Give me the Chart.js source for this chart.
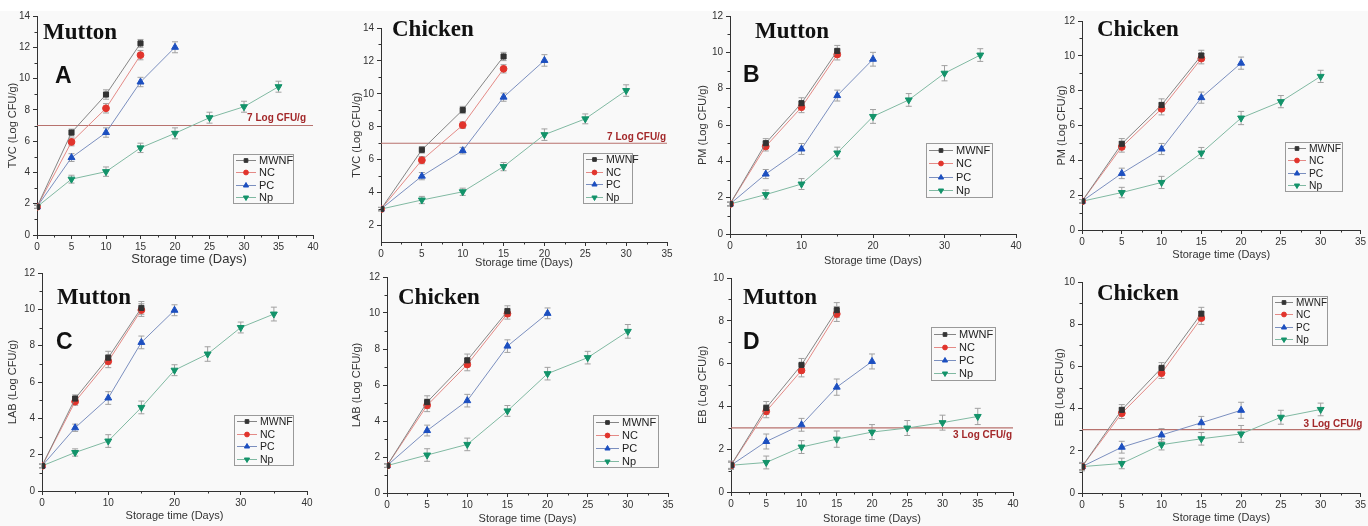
<!DOCTYPE html>
<html>
<head>
<meta charset="utf-8">
<script src="https://cdn.jsdelivr.net/npm/chart.js@4.4.1/dist/chart.umd.min.js"></script>
<style>
  body { margin: 0; width: 1368px; height: 526px; position: relative; overflow: hidden; background: #f9f9f9; }
  .topband { position: absolute; left: 0; top: 0; width: 1368px; height: 11px; background: #fff; }
  canvas { position: absolute; }
  .ttl { position: absolute; font-family: "Liberation Serif", "Times New Roman", serif; font-weight: bold; font-size: 23px; line-height: 1; color: #111; white-space: nowrap; }
  .let { position: absolute; font-family: "Liberation Sans", Arial, sans-serif; font-weight: bold; font-size: 23px; line-height: 1; color: #111; }
</style>
</head>
<body>
<div class="topband"></div>
<script>
// storage days and series
const days = [0, 5, 10, 15, 20, 25, 30, 35];
const seriesNames = ['MWNF', 'NC', 'PC', 'Np'];

// A - TVC mutton (MWNF, NC, PC, Np)
const tvcMutton = [
  [1.8, 6.55, 8.98, 12.25],
  [1.8, 5.95, 8.1, 11.5],
  [1.8, 4.95, 6.55, 9.78, 12.0],
  [1.8, 3.57, 4.05, 5.57, 6.5, 7.5, 8.2, 9.48]
];
const tvcMuttonErr = [
  [0.1, 0.22, 0.3, 0.25],
  [0.1, 0.25, 0.3, 0.3],
  [0.1, 0.25, 0.3, 0.3, 0.35],
  [0.1, 0.25, 0.3, 0.3, 0.35, 0.35, 0.35, 0.35]
];

// TVC chicken
const tvcChicken = [
  [3.0, 6.6, 9.02, 12.27],
  [3.0, 5.97, 8.1, 11.52],
  [3.0, 5.0, 6.55, 9.8, 12.03],
  [3.0, 3.55, 4.05, 5.58, 7.52, 8.48, 10.2]
];
const tvcChickenErr = [
  [0.1, 0.2, 0.22, 0.25],
  [0.1, 0.22, 0.2, 0.25],
  [0.1, 0.22, 0.2, 0.25, 0.35],
  [0.1, 0.22, 0.22, 0.25, 0.35, 0.3, 0.35]
];

// B - PM mutton
const pmMutton = [
  [1.65, 5.0, 7.2, 10.08],
  [1.65, 4.82, 6.98, 9.88],
  [1.65, 3.3, 4.68, 7.62, 9.62],
  [1.65, 2.17, 2.75, 4.46, 6.47, 7.38, 8.85, 9.85]
];
const pmMuttonErr = [
  [0.1, 0.25, 0.3, 0.3],
  [0.1, 0.25, 0.3, 0.3],
  [0.1, 0.25, 0.3, 0.3, 0.38],
  [0.1, 0.25, 0.3, 0.32, 0.38, 0.35, 0.42, 0.35]
];

// PM chicken
const pmChicken = [
  [1.65, 4.95, 7.18, 10.02],
  [1.65, 4.77, 6.96, 9.84],
  [1.65, 3.25, 4.65, 7.6, 9.58],
  [1.65, 2.15, 2.73, 4.42, 6.43, 7.37, 8.82]
];
const pmChickenErr = [
  [0.1, 0.3, 0.35, 0.3],
  [0.1, 0.3, 0.35, 0.3],
  [0.1, 0.3, 0.32, 0.32, 0.35],
  [0.1, 0.3, 0.35, 0.32, 0.38, 0.35, 0.35]
];

// C - LAB mutton
const labMutton = [
  [1.38, 5.09, 7.34, 10.08],
  [1.38, 4.92, 7.14, 9.96],
  [1.38, 3.48, 5.12, 8.18, 9.95],
  [1.38, 2.12, 2.75, 4.6, 6.65, 7.54, 9.0, 9.74]
];
const labMuttonErr = [
  [0.1, 0.2, 0.35, 0.35],
  [0.1, 0.2, 0.35, 0.35],
  [0.1, 0.2, 0.35, 0.35, 0.3],
  [0.1, 0.2, 0.35, 0.35, 0.3, 0.4, 0.3, 0.38]
];

// LAB chicken
const labChicken = [
  [1.52, 5.05, 7.37, 10.1],
  [1.52, 4.87, 7.14, 9.96],
  [1.52, 3.47, 5.13, 8.16, 9.98],
  [1.52, 2.11, 2.7, 4.56, 6.63, 7.52, 8.98]
];
const labChickenErr = [
  [0.1, 0.35, 0.35, 0.3],
  [0.1, 0.35, 0.35, 0.3],
  [0.1, 0.3, 0.35, 0.35, 0.3],
  [0.1, 0.35, 0.35, 0.3, 0.35, 0.35, 0.38]
];

// D - EB mutton
const ebMutton = [
  [1.25, 3.93, 5.94, 8.5],
  [1.25, 3.77, 5.68, 8.32],
  [1.25, 2.36, 3.14, 4.9, 6.1],
  [1.25, 1.38, 2.1, 2.47, 2.8, 2.99, 3.24, 3.53]
];
const ebMuttonErr = [
  [0.15, 0.3, 0.3, 0.35],
  [0.15, 0.3, 0.3, 0.35],
  [0.15, 0.35, 0.3, 0.38, 0.35],
  [0.2, 0.3, 0.3, 0.38, 0.35, 0.35, 0.35, 0.38]
];

// EB chicken
const ebChicken = [
  [1.25, 3.94, 5.93, 8.5],
  [1.25, 3.78, 5.68, 8.29],
  [1.25, 2.17, 2.75, 3.33, 3.92],
  [1.25, 1.4, 2.29, 2.57, 2.8, 3.59, 3.96]
];
const ebChickenErr = [
  [0.15, 0.25, 0.25, 0.3],
  [0.15, 0.25, 0.25, 0.3],
  [0.15, 0.28, 0.3, 0.3, 0.38],
  [0.2, 0.25, 0.25, 0.3, 0.4, 0.33, 0.3]
];

// styles
const markerColors = ['#333333', '#e1342c', '#1c4fc0', '#13936a'];
const lineColors = ['#858585', '#e48a86', '#7b8fbf', '#80b9a2'];
const pointStyles = ['rect', 'circle', 'triangle', 'triangle'];
const pointRots = [0, 0, 0, 180];
const pointSizes = [3.6, 3.4, 4, 4];

Chart.defaults.font.family = '"Liberation Sans", Arial, sans-serif';
Chart.defaults.color = '#333';

const extras = {
  id: 'extras',
  beforeDatasetsDraw(chart) {
    const ctx = chart.ctx, ys = chart.scales.y;
    chart.data.datasets.forEach((ds, di) => {
      if (!ds.errors) return;
      const meta = chart.getDatasetMeta(di);
      ctx.save();
      ctx.strokeStyle = '#a0a0a0';
      ctx.lineWidth = 1;
      ctx.beginPath();
      meta.data.forEach((pt, i) => {
        const v = ds.data[i].y, e = ds.errors[i];
        const t = ys.getPixelForValue(v + e), b = ys.getPixelForValue(v - e);
        ctx.moveTo(pt.x, t); ctx.lineTo(pt.x, b);
        ctx.moveTo(pt.x - 3, t); ctx.lineTo(pt.x + 3, t);
        ctx.moveTo(pt.x - 3, b); ctx.lineTo(pt.x + 3, b);
      });
      ctx.stroke();
      ctx.restore();
    });
  },
  afterDraw(chart, args, o) {
    const ctx = chart.ctx, xs = chart.scales.x, ys = chart.scales.y;
    ctx.save();
    // minor ticks
    ctx.strokeStyle = '#333';
    ctx.lineWidth = 1;
    ctx.beginPath();
    for (let v = o.xMinor; v < xs.max; v += o.xMinor) {
      if (Math.abs(v / o.xMajor - Math.round(v / o.xMajor)) < 1e-6) continue;
      const px = Math.round(xs.getPixelForValue(v)) + 0.5;
      ctx.moveTo(px, ys.bottom); ctx.lineTo(px, ys.bottom + 2.5);
    }
    for (let v = Math.ceil(ys.min); v < ys.max; v += o.yMinor) {
      if (v <= ys.min) continue;
      if (Math.abs(v / o.yMajor - Math.round(v / o.yMajor)) < 1e-6) continue;
      const py = Math.round(ys.getPixelForValue(v)) + 0.5;
      ctx.moveTo(xs.left, py); ctx.lineTo(xs.left - 2.5, py);
    }
    ctx.stroke();

    // x axis title
    ctx.font = o.xTitleSize + 'px "Liberation Sans", Arial, sans-serif';
    ctx.fillStyle = '#333';
    ctx.textAlign = 'center';
    ctx.textBaseline = 'middle';
    ctx.fillText('Storage time (Days)', (xs.left + xs.right) / 2 + o.xTitleShift, o.xTitleY);

    // threshold label
    if (o.thrLabel) {
      ctx.font = 'bold 10px "Liberation Sans", Arial, sans-serif';
      ctx.fillStyle = '#a3282a';
      ctx.textAlign = 'right';
      ctx.fillText(o.thrLabel, xs.getPixelForValue(xs.max) + o.thrDx, ys.getPixelForValue(o.thr) + o.thrDy);
    }

    // legend box
    const [bx, by, bw, bh] = o.legend;
    ctx.strokeStyle = '#9a9a9a';
    ctx.lineWidth = 1;
    ctx.strokeRect(Math.round(bx) + 0.5, Math.round(by) + 0.5, Math.round(bw), Math.round(bh));
    const rowH = bh / 4;
    ctx.font = o.legendFont + 'px "Liberation Sans", Arial, sans-serif';
    ctx.textAlign = 'left';
    ctx.textBaseline = 'middle';
    const dp = Chart.helpers && Chart.helpers.drawPoint;
    chart.data.datasets.forEach((ds, i) => {
      if (!ds.errors) return;
      const cy = Math.round(by + rowH * (i + 0.5)) + 0.5;
      ctx.strokeStyle = ds.borderColor;
      ctx.beginPath();
      ctx.moveTo(bx + 3, cy); ctx.lineTo(bx + o.legendTextDx - 3, cy);
      ctx.stroke();
      ctx.fillStyle = ds.pointBackgroundColor;
      ctx.strokeStyle = ds.pointBorderColor;
      const mx = bx + (o.legendTextDx) / 2;
      if (dp) {
        dp(ctx, { pointStyle: ds.pointStyle, rotation: ds.pointRotation, radius: ds.pointRadius - 1, borderWidth: 1 }, mx, cy);
      } else {
        ctx.beginPath(); ctx.arc(mx, cy, 2.5, 0, Math.PI * 2); ctx.fill();
      }
      ctx.fillStyle = '#222';
      ctx.fillText(ds.label, bx + o.legendTextDx, cy + 0.5);
    });
    ctx.restore();
  }
};

// layout of each panel (page pixels)
const panels = [
  { data: tvcMutton, err: tvcMuttonErr, yTitle: 'TVC (Log CFU/g)', area: [37, 16, 313, 235], yTitleX: 13, xTitleY: 259, xTitleSize: 13, xTitleShift: 14,
    xMax: 40, xStep: 5, yMin: 0, yMax: 14, yStep: 2, thr: 7, thrLabel: '7 Log CFU/g', thrDx: -7, thrDy: -7, legend: [233, 154, 60, 49], legendFont: 11, legendTextDx: 26,
    title: 'Mutton', titlePos: [43, 31.5], letter: 'A', letterPos: [55, 75] },
  { data: tvcChicken, err: tvcChickenErr, yTitle: 'TVC (Log CFU/g)', area: [381, 28, 667, 242], yTitleX: 357, xTitleY: 263, xTitleSize: 11, xTitleShift: 0,
    xMax: 35, xStep: 5, yMin: 1, yMax: 14, yStep: 2, thr: 7, thrLabel: '7 Log CFU/g', thrDx: -1, thrDy: -6, legend: [583, 153, 49, 50], legendFont: 10.5, legendTextDx: 23,
    title: 'Chicken', titlePos: [392, 29] },
  { data: pmMutton, err: pmMuttonErr, yTitle: 'PM (Log CFU/g)', area: [730, 16, 1016, 234], yTitleX: 703, xTitleY: 261, xTitleSize: 11, xTitleShift: 0,
    xMax: 40, xStep: 10, yMin: 0, yMax: 12, yStep: 2, legend: [926, 143, 66, 54], legendFont: 11, legendTextDx: 30,
    title: 'Mutton', titlePos: [755, 30.5], letter: 'B', letterPos: [743, 74.5] },
  { data: pmChicken, err: pmChickenErr, yTitle: 'PM (Log CFU/g)', area: [1082, 21, 1363, 230], yTitleX: 1062, xTitleY: 255, xTitleSize: 11, xTitleShift: 0,
    xMax: 35, xStep: 5, yMin: 0, yMax: 12, yStep: 2, legend: [1285, 142, 57, 49], legendFont: 10.3, legendTextDx: 24,
    title: 'Chicken', titlePos: [1097, 28.5] },
  { data: labMutton, err: labMuttonErr, yTitle: 'LAB (Log CFU/g)', area: [42, 273, 307, 491], yTitleX: 13, xTitleY: 516, xTitleSize: 11, xTitleShift: 0,
    xMax: 40, xStep: 10, yMin: 0, yMax: 12, yStep: 2, legend: [234, 415, 59, 50], legendFont: 10.5, legendTextDx: 26,
    title: 'Mutton', titlePos: [57, 297], letter: 'C', letterPos: [56, 341.5] },
  { data: labChicken, err: labChickenErr, yTitle: 'LAB (Log CFU/g)', area: [387, 277, 668, 493], yTitleX: 357, xTitleY: 519, xTitleSize: 11, xTitleShift: 0,
    xMax: 35, xStep: 5, yMin: 0, yMax: 12, yStep: 2, legend: [593, 415, 65, 52], legendFont: 11, legendTextDx: 29,
    title: 'Chicken', titlePos: [398, 296.5] },
  { data: ebMutton, err: ebMuttonErr, yTitle: 'EB (Log CFU/g)', area: [731, 278, 1013, 492], yTitleX: 703, xTitleY: 519, xTitleSize: 11, xTitleShift: 0,
    xMax: 40, xStep: 5, yMin: 0, yMax: 10, yStep: 2, thr: 3, thrLabel: '3 Log CFU/g', thrDx: -1, thrDy: 7.5, legend: [931, 327, 64, 53], legendFont: 11, legendTextDx: 28,
    title: 'Mutton', titlePos: [743, 297], letter: 'D', letterPos: [743, 341] },
  { data: ebChicken, err: ebChickenErr, yTitle: 'EB (Log CFU/g)', area: [1082, 282, 1363, 493], yTitleX: 1060, xTitleY: 518, xTitleSize: 11, xTitleShift: 0,
    xMax: 35, xStep: 5, yMin: 0, yMax: 10, yStep: 2, thr: 3, thrLabel: '3 Log CFU/g', thrDx: 2, thrDy: -5.5, legend: [1272, 296, 55, 49], legendFont: 10, legendTextDx: 24,
    title: 'Chicken', titlePos: [1097, 293] }
];

function addText(cls, text, x, cy, k) {
  const d = document.createElement('div');
  d.className = cls;
  d.textContent = text;
  d.style.left = x + 'px';
  d.style.top = (cy - k * 23) + 'px';
  document.body.appendChild(d);
}

panels.forEach(p => {
  const [ax0, ay0, ax1, ay1] = p.area;
  const L = Math.round(p.yTitleX - 6.6);
  const T = ay0 - 10;
  const R = Math.min(1368, ax1 + 10);
  const B = Math.round(p.xTitleY + p.xTitleSize * 0.6);
  const cv = document.createElement('canvas');
  cv.width = R - L; cv.height = B - T;
  cv.style.left = L + 'px'; cv.style.top = T + 'px';
  cv.style.width = (R - L) + 'px'; cv.style.height = (B - T) + 'px';
  document.body.appendChild(cv);

  const datasets = p.data.map((vals, s) => ({
    label: seriesNames[s],
    data: vals.map((v, i) => ({ x: days[i], y: v })),
    errors: p.err[s],
    borderColor: lineColors[s],
    backgroundColor: markerColors[s],
    pointBackgroundColor: markerColors[s],
    pointBorderColor: markerColors[s],
    pointStyle: pointStyles[s],
    pointRotation: pointRots[s],
    pointRadius: pointSizes[s],
    pointBorderWidth: 1,
    borderWidth: 1,
    tension: 0
  }));
  if (p.thr != null) {
    datasets.push({ label: 'limit', data: [{ x: 0, y: p.thr }, { x: p.xMax, y: p.thr }],
      borderColor: '#b8726e', borderWidth: 1.2, pointRadius: 0 });
  }

  new Chart(cv, {
    type: 'line',
    data: { datasets },
    options: {
      responsive: false,
      animation: false,
      layout: { padding: { left: 0, top: ay0 - T, right: R - ax1, bottom: 0 } },
      plugins: {
        legend: { display: false },
        tooltip: { enabled: false },
        extras: {
          xMajor: p.xStep, xMinor: p.xStep / 2, yMajor: p.yStep, yMinor: p.yStep / 2,
          xTitleSize: p.xTitleSize, xTitleShift: p.xTitleShift, xTitleY: p.xTitleY - T,
          thr: p.thr, thrLabel: p.thrLabel, thrDx: p.thrDx, thrDy: p.thrDy,
          legend: [p.legend[0] - L, p.legend[1] - T, p.legend[2], p.legend[3]],
          legendFont: p.legendFont, legendTextDx: p.legendTextDx
        }
      },
      scales: {
        x: {
          type: 'linear', min: 0, max: p.xMax,
          ticks: { stepSize: p.xStep, font: { size: 10 }, color: '#333', padding: 2, maxRotation: 0, autoSkip: false },
          grid: { drawOnChartArea: false, drawTicks: true, tickLength: 4, tickColor: '#333' },
          border: { display: true, color: '#333', width: 1 },
          afterFit: s => { s.height = B - ay1; }
        },
        y: {
          type: 'linear', min: p.yMin, max: p.yMax,
          ticks: { stepSize: p.yStep, includeBounds: false, font: { size: 10 }, color: '#333', padding: 3 },
          grid: { drawOnChartArea: false, drawTicks: true, tickLength: 4, tickColor: '#333' },
          border: { display: true, color: '#333', width: 1 },
          title: { display: true, text: p.yTitle, font: { size: 11 }, color: '#333', padding: 0 },
          afterFit: s => { s.width = ax0 - L; }
        }
      }
    },
    plugins: [extras]
  });

  addText('ttl', p.title, p.titlePos[0], p.titlePos[1], 0.507);
  if (p.letter) addText('let', p.letter, p.letterPos[0], p.letterPos[1], 0.488);
});
</script>
</body>
</html>
